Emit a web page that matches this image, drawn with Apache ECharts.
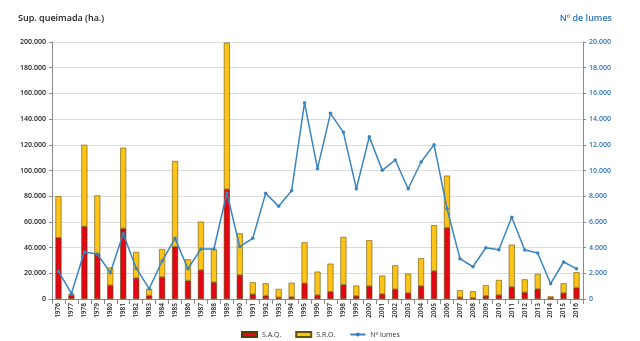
<!DOCTYPE html>
<html><head><meta charset="utf-8">
<script src="https://cdn.jsdelivr.net/npm/echarts@6/dist/echarts.min.js"></script>
<style>html,body{margin:0;padding:0;background:#fff}#c{width:640px;height:341px}</style>
</head><body><div id="c"></div>
<script>
const years = ['1976','1977','1978','1979','1980','1981','1982','1983','1984','1985','1986','1987','1988','1989','1990','1991','1992','1993','1994','1995','1996','1997','1998','1999','2000','2001','2002','2003','2004','2005','2006','2007','2008','2009','2010','2011','2012','2013','2014','2015','2016'];
const saq = [47700,2850,56500,35200,10600,54900,16300,2700,17100,40700,14300,22600,13000,85400,18700,3700,2600,1300,1600,12200,3100,5700,11200,2400,10100,3900,7600,4700,10100,21800,55500,1300,800,2400,3100,9400,5200,7800,1000,4700,8800];
const totals = [80000,3900,120000,80600,24500,117700,36600,7800,38900,107400,30900,60200,38700,199500,51100,13000,12200,7800,12700,44100,21300,27500,48300,10400,45700,18200,26200,19700,31700,57400,96000,6800,6000,10700,14800,42300,15300,19500,2100,12200,20800];
const sro = totals.map((t, i) => t - saq[i]);
const lumes = [2150,430,3660,3500,2050,5080,2400,800,2950,4720,2360,3890,3890,8250,4070,4720,8230,7210,8430,15280,10140,14450,12970,8580,12630,10010,10820,8580,10660,12010,7030,3140,2510,3990,3840,6360,3810,3580,1190,2880,2360];

const fmt = v => String(v).replace(/\B(?=(\d{3})+(?!\d))/g, '.');
const FONT = 'Open Sans';
const chart = echarts.init(document.getElementById('c'), null, {renderer: 'canvas'});
chart.setOption({
  animation: false,
  backgroundColor: '#ffffff',
  textStyle: {fontFamily: FONT},
  graphic: [
    {type: 'text', left: 18, top: 14, style: {text: 'Sup. queimada (ha.)', font: '600 9px "Open Sans"', fill: '#222'}},
    {type: 'text', right: 28, top: 14, style: {text: 'Nº de lumes', font: '600 9px "Open Sans"', fill: '#2e75b6'}}
  ],
  legend: {
    left: 236, top: 326, itemGap: 14, itemWidth: 15, itemHeight: 5,
    textStyle: {fontSize: 7, color: '#333', fontFamily: FONT},
    data: [
      {name: 'S.A.Q.', icon: 'rect'},
      {name: 'S.R.O.', icon: 'rect'},
      {name: 'Nº lumes'}
    ]
  },
  grid: {left: 52, right: 57, top: 42, bottom: 42},
  xAxis: {
    type: 'category', data: years,
    axisLine: {lineStyle: {color: '#8a8a8a'}},
    axisTick: {show: true, alignWithLabel: false, lineStyle: {color: '#8a8a8a'}},
    axisLabel: {rotate: 90, fontSize: 6.5, fontWeight: 600, color: '#222', margin: 4, interval: 0, fontFamily: FONT}
  },
  yAxis: [
    {type: 'value', min: 0, max: 200000, interval: 20000,
     axisLine: {show: true, lineStyle: {color: '#8a8a8a'}},
     axisTick: {show: true, length: 3, lineStyle: {color: '#8a8a8a'}},
     splitLine: {lineStyle: {color: '#dcdcdc'}},
     axisLabel: {formatter: fmt, fontSize: 7, color: '#222', fontWeight: 600, margin: 6, fontFamily: FONT}},
    {type: 'value', min: 0, max: 20000, interval: 2000,
     axisLine: {show: true, lineStyle: {color: '#8a8a8a'}},
     axisTick: {show: true, length: 3, lineStyle: {color: '#8a8a8a'}},
     splitLine: {show: false},
     axisLabel: {formatter: fmt, fontSize: 7, color: '#2e75b6', fontWeight: 600, margin: 6, fontFamily: FONT}}
  ],
  series: [
    {name: 'S.A.Q.', type: 'bar', stack: 'a', data: saq, barWidth: 6,
     itemStyle: {color: '#e30613', borderColor: '#5a3a00', borderWidth: 0.6}},
    {name: 'S.R.O.', type: 'bar', stack: 'a', data: sro, barWidth: 6,
     itemStyle: {color: '#fcc419', borderColor: '#6b5200', borderWidth: 0.6}},
    {name: 'Nº lumes', type: 'line', yAxisIndex: 1, data: lumes,
     symbol: 'circle', symbolSize: 3.5,
     lineStyle: {color: '#3a84bf', width: 1.5},
     itemStyle: {color: '#3a84bf'}}
  ]
});
</script></body></html>
